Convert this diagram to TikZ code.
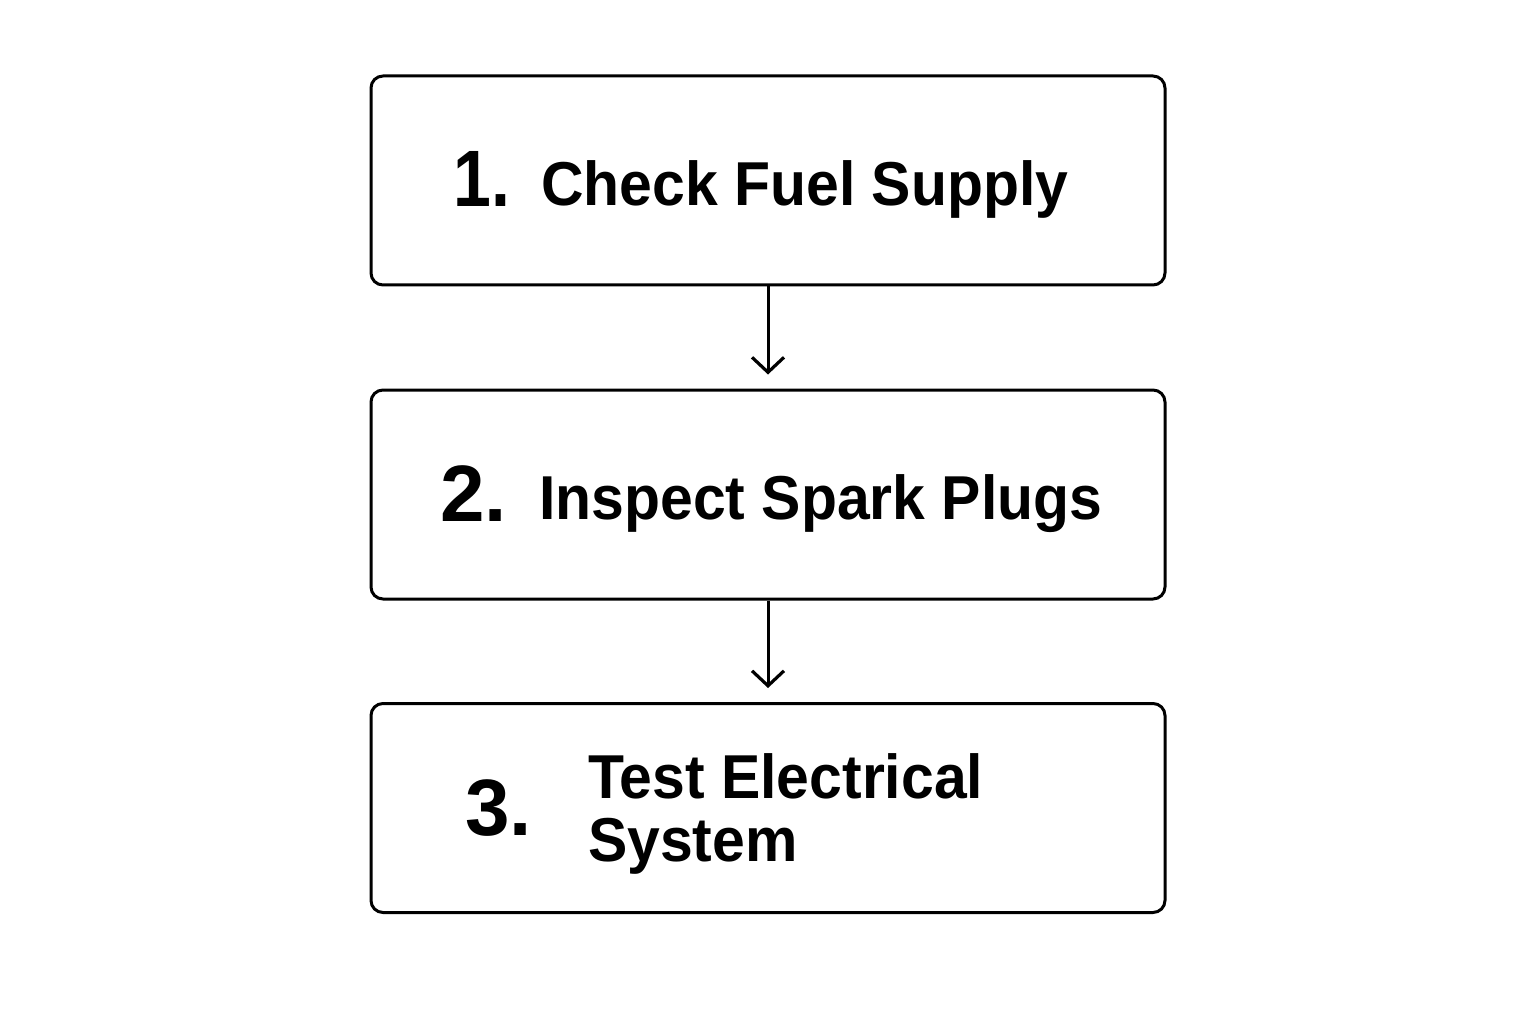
\documentclass[tikz,border=0pt]{standalone}
\usepackage{fontspec}
\setmainfont{Liberation Sans}
\usetikzlibrary{arrows.meta}
\tikzset{
  stepbox/.style={draw=black, line width=3pt, rounded corners=12pt, minimum width=794pt, minimum height=209pt, inner sep=0pt},
  numtxt/.style={anchor=base west, inner sep=0pt, font=\bfseries\fontsize{80}{80}\selectfont},
  labtxt/.style={anchor=base west, inner sep=0pt, font=\bfseries\fontsize{62}{62}\selectfont},
  flow/.style={line width=3pt, -{Straight Barb[length=15pt,width=32pt,line width=3.2pt]}, shorten >=14pt}
}
\begin{document}
\begin{tikzpicture}[x=1pt,y=-1pt]
\useasboundingbox (0,0) rectangle (1536,1024);
\fill[white] (0,0) rectangle (1536,1024);
\node[stepbox] (b1) at (768,180.5) {};
\node[stepbox] (b2) at (768,494.5) {};
\node[stepbox] (b3) at (768,808) {};
\node[numtxt] (n1) at (453,207) {\scalebox{0.85}[1]{1.}};
\node[labtxt] (t1) at (541,206) {\scalebox{0.95}[1]{Check Fuel Supply}};
\node[numtxt] (n2) at (440,521) {2.};
\node[labtxt] (t2) at (539,519) {\scalebox{0.95}[1]{Inspect Spark Plugs}};
\node[numtxt] (n3) at (465,835) {3.};
\node[labtxt] (t3) at (588,798) {\scalebox{0.95}[1]{Test Electrical}};
\node[labtxt] (t4) at (588,861) {\scalebox{0.95}[1]{System}};
\draw[flow] (b1.south) -- (b2.north);
\draw[flow] (b2.south) -- (b3.north);
\end{tikzpicture}
\end{document}
